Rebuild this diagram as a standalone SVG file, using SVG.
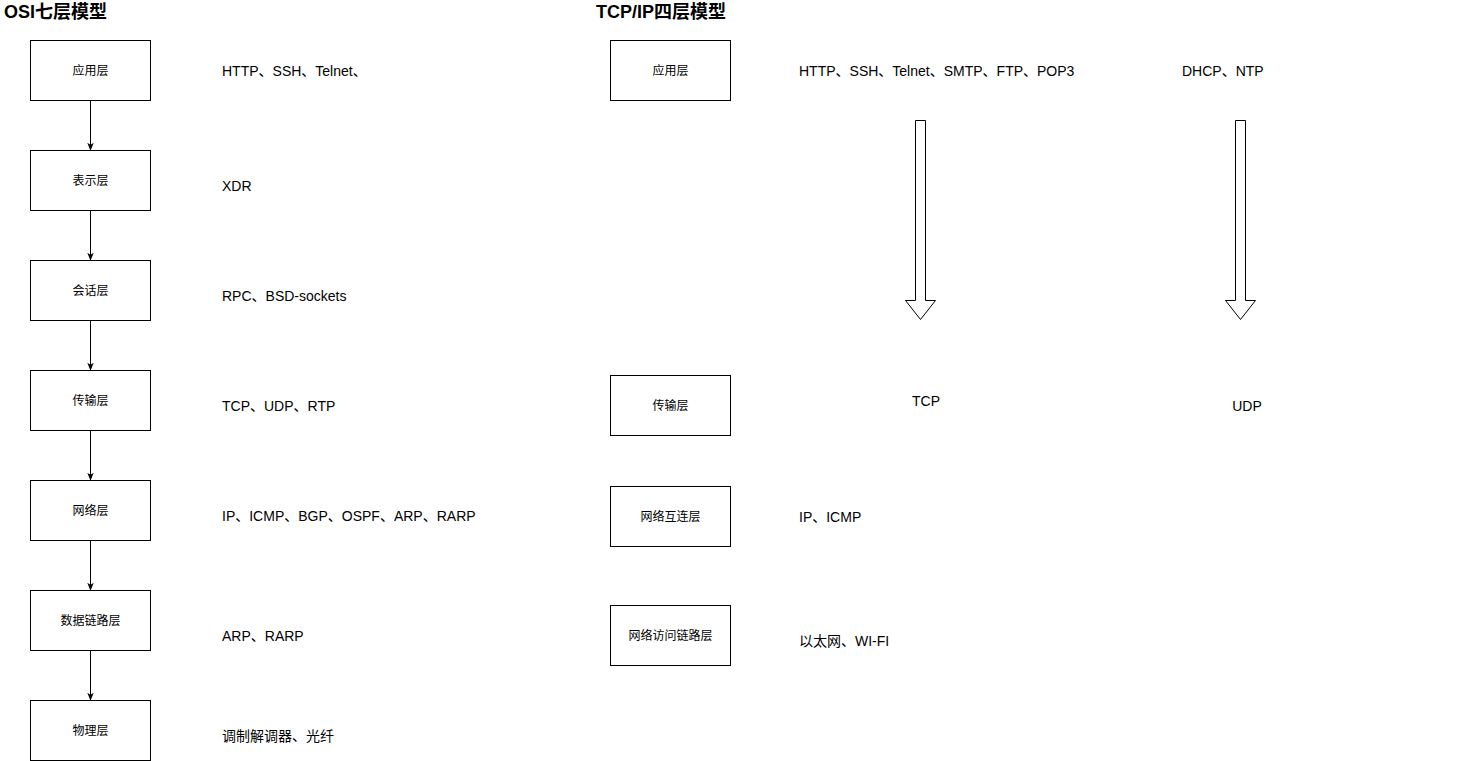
<svg xmlns="http://www.w3.org/2000/svg" width="1474" height="761" viewBox="0 0 1474 761">
<defs>
<style>
.box{fill:#fff;stroke:#000;stroke-width:1}
.bt{font-family:"Liberation Sans","Noto Sans CJK SC",sans-serif;font-size:12px;fill:#000;text-anchor:middle;dominant-baseline:central}
.lb{font-family:"Liberation Sans","Noto Sans CJK SC",sans-serif;font-size:14px;fill:#000;dominant-baseline:central}
.tt{font-family:"Liberation Sans","Noto Sans CJK SC",sans-serif;font-size:18px;font-weight:bold;fill:#000;dominant-baseline:central}
.ed{stroke:#000;stroke-width:1;fill:none}
.blk{fill:#fff;stroke:#000;stroke-width:1;stroke-linejoin:miter}
</style>
<marker id="ah" viewBox="0 0 10 10" refX="9" refY="5" markerWidth="8" markerHeight="8" orient="auto" markerUnits="userSpaceOnUse">
<path d="M0,1 L10,5 L0,9 L2.5,5 Z" fill="#000"/>
</marker>
</defs>
<rect width="1474" height="761" fill="#fff"/>
<text class="tt" x="4" y="12">OSI七层模型</text>
<text class="tt" x="596" y="12">TCP/IP四层模型</text>

<g id="connectors">
<line class="ed" x1="90.5" y1="100" x2="90.5" y2="150" marker-end="url(#ah)"/>
<line class="ed" x1="90.5" y1="210" x2="90.5" y2="260" marker-end="url(#ah)"/>
<line class="ed" x1="90.5" y1="320" x2="90.5" y2="370" marker-end="url(#ah)"/>
<line class="ed" x1="90.5" y1="430" x2="90.5" y2="480" marker-end="url(#ah)"/>
<line class="ed" x1="90.5" y1="540" x2="90.5" y2="590" marker-end="url(#ah)"/>
<line class="ed" x1="90.5" y1="650" x2="90.5" y2="700" marker-end="url(#ah)"/>
<path id="arrow-tcp" class="blk" d="M915.5,120.5 H925.5 V300.5 H935.5 L920.5,319.5 L905.5,300.5 H915.5 Z"/>
<path id="arrow-udp" class="blk" d="M1235.5,120.5 H1245.5 V300.5 H1255.5 L1240.5,319.5 L1225.5,300.5 H1235.5 Z"/>
</g>

<g id="osi-app"><rect class="box" x="30.5" y="40.5" width="120" height="60"/><text class="bt" x="90.5" y="70.5">应用层</text></g>
<g id="osi-pres"><rect class="box" x="30.5" y="150.5" width="120" height="60"/><text class="bt" x="90.5" y="180.5">表示层</text></g>
<g id="osi-sess"><rect class="box" x="30.5" y="260.5" width="120" height="60"/><text class="bt" x="90.5" y="290.5">会话层</text></g>
<g id="osi-trans"><rect class="box" x="30.5" y="370.5" width="120" height="60"/><text class="bt" x="90.5" y="400.5">传输层</text></g>
<g id="osi-net"><rect class="box" x="30.5" y="480.5" width="120" height="60"/><text class="bt" x="90.5" y="510.5">网络层</text></g>
<g id="osi-link"><rect class="box" x="30.5" y="590.5" width="120" height="60"/><text class="bt" x="90.5" y="620.5">数据链路层</text></g>
<g id="osi-phy"><rect class="box" x="30.5" y="700.5" width="120" height="60"/><text class="bt" x="90.5" y="730.5">物理层</text></g>

<g id="osi-labels">
<text class="lb" x="222" y="71">HTTP、SSH、Telnet、</text>
<text class="lb" x="222" y="186">XDR</text>
<text class="lb" x="222" y="296">RPC、BSD-sockets</text>
<text class="lb" x="222" y="406">TCP、UDP、RTP</text>
<text class="lb" x="222" y="516">IP、ICMP、BGP、OSPF、ARP、RARP</text>
<text class="lb" x="222" y="636">ARP、RARP</text>
<text class="lb" x="222" y="736">调制解调器、光纤</text>
</g>

<g id="tcp-app"><rect class="box" x="610.5" y="40.5" width="120" height="60"/><text class="bt" x="670.5" y="70.5">应用层</text></g>
<g id="tcp-trans"><rect class="box" x="610.5" y="375.5" width="120" height="60"/><text class="bt" x="670.5" y="405.5">传输层</text></g>
<g id="tcp-net"><rect class="box" x="610.5" y="486.5" width="120" height="60"/><text class="bt" x="670.5" y="516.5">网络互连层</text></g>
<g id="tcp-link"><rect class="box" x="610.5" y="605.5" width="120" height="60"/><text class="bt" x="670.5" y="635.5">网络访问链路层</text></g>

<g id="tcp-labels">
<text class="lb" x="799" y="71">HTTP、SSH、Telnet、SMTP、FTP、POP3</text>
<text class="lb" x="1182" y="71">DHCP、NTP</text>
<text class="lb" x="926" y="401" text-anchor="middle">TCP</text>
<text class="lb" x="1247" y="406" text-anchor="middle">UDP</text>
<text class="lb" x="799" y="517">IP、ICMP</text>
<text class="lb" x="799" y="641">以太网、WI-FI</text>
</g>
</svg>
